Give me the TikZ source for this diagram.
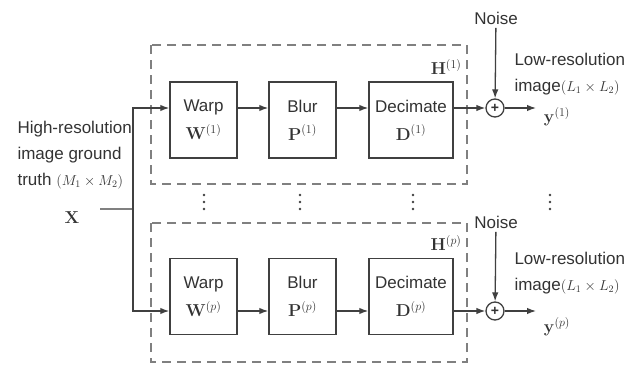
\documentclass[tikz,border=0pt]{standalone}
\usepackage[no-math]{fontspec}
\setmainfont{Liberation Sans}
\usetikzlibrary{arrows.meta}
\definecolor{linec}{HTML}{404040}
\definecolor{dashc}{HTML}{808080}
\definecolor{textc}{HTML}{333333}
\newcommand{\smallmath}[1]{{\fontsize{14}{14}\selectfont$#1$}}
\newcommand{\bigmath}[1]{{\fontsize{17}{17}\selectfont$#1$}}
\tikzset{
  blockbox/.style={draw=linec, line width=1.5pt, minimum width=67pt, minimum height=76pt, align=center, inner sep=0pt},
  sumnode/.style={draw=linec, circle, line width=1.3pt, minimum size=18pt, inner sep=0pt, font=\bfseries\fontsize{14}{14}\selectfont},
  arr/.style={-{Latex[length=9pt,width=6.5pt]}, line width=1.3pt, draw=linec},
  dashbox/.style={draw=dashc, dash pattern=on 9pt off 6pt, line width=1.3pt},
  feed/.style={draw=dashc, line width=2.2pt},
}
\begin{document}
\begin{tikzpicture}[x=1pt,y=-1pt,text=textc,font=\fontsize{17}{28}\selectfont]
\useasboundingbox (0,0) rectangle (634,364);
\fill[white] (0,0) rectangle (634,364);

\draw[dashbox] (151,45) rectangle (467,184);
\draw[dashbox] (151,223) rectangle (467,362);

\foreach \r/\yc/\ya/\s/\yn/\yl/\yy/\yh in {1/120/108/1/18/74/117/67, 2/296.5/311/p/222/273/327/243}
{
    \node[blockbox] (W\r) at (203.5,\yc) {Warp\\\bigmath{\mathbf{W}^{(\s)}}};
    \node[blockbox] (B\r) at (302.5,\yc) {Blur\\\bigmath{\mathbf{P}^{(\s)}}};
    \node[blockbox, minimum width=84pt] (D\r) at (411,\yc) {Decimate\\\bigmath{\mathbf{D}^{(\s)}}};
    \node[sumnode] (S\r) at (495,\ya) {+};
    \node (N\r) at (496,\yn) {Noise};
    \node[anchor=east] (H\r) at (465,\yh) {\bigmath{\mathbf{H}^{(\s)}}};
    \node[anchor=west, align=left, font=\fontsize{17}{26}\selectfont] (L\r) at (511,\yl) {Low-resolution\\image\smallmath{(L_1\times L_2)}};
    \node (O\r) at (557,\yy) {\bigmath{\mathbf{y}^{(\s)}}};
    \coordinate (Y\r) at (536,\ya);

    \draw[arr] (W\r.east |- S\r) -- (B\r.west |- S\r);
    \draw[arr] (B\r.east |- S\r) -- (D\r.west |- S\r);
    \draw[arr] (D\r.east |- S\r) -- (S\r);
    \draw[arr] (N\r) -- (S\r);
    \draw[arr] (S\r) -- (Y\r);
}

\foreach \x in {204,300,413,550}
{
    \foreach \d in {195,202,209}
        \fill[linec] (\x,\d) circle (1.3pt);
}

\node[anchor=west, align=left, font=\fontsize{17}{26}\selectfont] (HR) at (14,155) {High-resolution\\image ground\\truth \smallmath{(M_1\times M_2)}};
\node (X) at (72,218) {\bigmath{\mathbf{X}}};

\coordinate (xin) at (100,209);
\coordinate (split) at (133,209);
\draw[feed] (xin) -- (split);
\draw[arr] (split) |- (W1.west |- S1);
\draw[arr] (split) |- (W2.west |- S2);

\end{tikzpicture}
\end{document}
